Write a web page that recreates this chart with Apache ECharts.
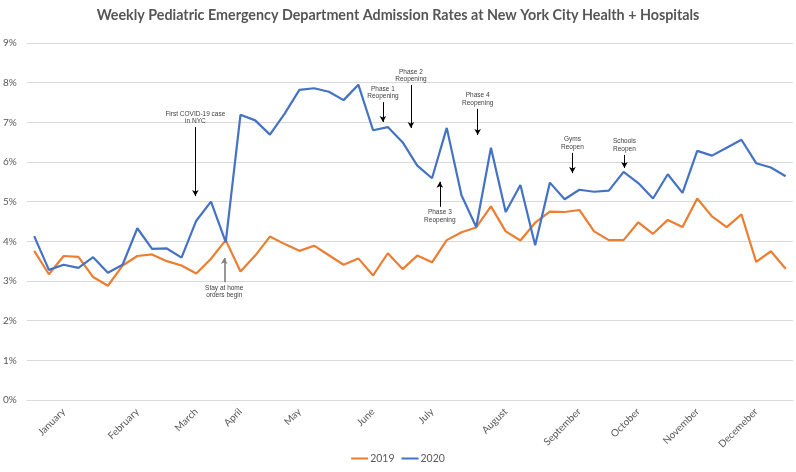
<!DOCTYPE html>
<html lang="en">
<head>
    <meta charset="UTF-8">
    <title>Weekly Pediatric ED Admission Rates</title>
    <script src="https://cdn.jsdelivr.net/npm/echarts@6/dist/echarts.min.js"></script>
</head>
<body style="margin:0;background:#fff;">
<div id="main" style="width:796px;height:472px;"></div>

<script type="text/javascript">
    // weekly rates in %, 52 weeks
    var rates2019 = [3.76, 3.17, 3.63, 3.61, 3.10, 2.88, 3.39, 3.63, 3.67, 3.50,
        3.39, 3.19, 3.56, 4.03, 3.24, 3.64, 4.12, 3.93, 3.76, 3.89,
        3.65, 3.41, 3.57, 3.14, 3.70, 3.30, 3.64, 3.47, 4.03, 4.23,
        4.35, 4.88, 4.25, 4.02, 4.47, 4.75, 4.74, 4.79, 4.25, 4.03,
        4.03, 4.48, 4.19, 4.54, 4.36, 5.08, 4.63, 4.36, 4.68, 3.48,
        3.75, 3.31];
    var rates2020 = [4.13, 3.28, 3.41, 3.33, 3.60, 3.21, 3.41, 4.33, 3.81, 3.82,
        3.59, 4.52, 5.00, 3.98, 7.19, 7.05, 6.69, 7.22, 7.82, 7.86,
        7.77, 7.56, 7.95, 6.80, 6.88, 6.50, 5.91, 5.59, 6.86, 5.16,
        4.36, 6.36, 4.74, 5.42, 3.90, 5.48, 5.06, 5.30, 5.25, 5.28,
        5.75, 5.47, 5.08, 5.69, 5.22, 6.28, 6.16, 6.36, 6.56, 5.97,
        5.86, 5.64];

    // month names shown under the week where each label sits
    var monthNames = ['January', 'February', 'March', 'April', 'May', 'June',
        'July', 'August', 'September', 'October', 'November', 'Decemeber'];
    var monthWeeks = [2, 7, 11, 14, 18, 23, 27, 32, 37, 41, 45, 49];

    // annotations: text, week position (x), arrow start and end value (y)
    var noteTexts = ['First COVID-19 case\nin NYC', 'Stay at home\norders begin',
        'Phase 1\nReopening', 'Phase 2\nReopening', 'Phase 3\nReopening',
        'Phase 4\nReopening', 'Gyms\nReopen', 'Schools\nReopen'];
    var noteWeeks = [10.94, 12.9, 23.67, 25.57, 27.53, 30.1, 36.53, 40.06];
    var noteFrom = [6.88, 2.97, 7.51, 7.94, 4.87, 7.34, 6.23, 6.18];
    var noteTo = [5.14, 3.58, 7.01, 6.86, 5.50, 6.68, 5.72, 5.85];

    var categories = [];
    for (var i = 0; i < rates2019.length; i++) {
        var k = monthWeeks.indexOf(i);
        categories.push(k >= 0 ? monthNames[k] : '');
    }

    var noteLines = noteTexts.map(function (t, i) {
        var grey = i === 1;
        return [
            {
                name: t,
                coord: [noteWeeks[i], noteFrom[i]],
                lineStyle: {color: grey ? '#7f7f7f' : '#000', width: grey ? 1.6 : 1, type: 'solid'}
            },
            {coord: [noteWeeks[i], noteTo[i]]}
        ];
    });

    var myChart = echarts.init(document.getElementById('main'));

    var option = {
        animation: false,
        title: {
            text: 'Weekly Pediatric Emergency Department Admission Rates at New York City Health + Hospitals',
            left: 'center',
            top: 3,
            textStyle: {fontFamily: 'Lato', fontSize: 14.3, fontWeight: 'bold', color: '#555555'}
        },
        legend: {
            data: [{name: '2019', icon: 'rect'}, {name: '2020', icon: 'rect'}],
            bottom: 3,
            left: 'center',
            itemWidth: 17,
            itemHeight: 2,
            itemGap: 7,
            textStyle: {fontFamily: 'Lato', fontSize: 10.5, color: '#595959', padding: [0, 0, 0, -3]}
        },
        grid: {left: 25, right: 3, top: 43, bottom: 72},
        xAxis: [
            {
                type: 'category',
                data: categories,
                boundaryGap: true,
                axisLine: {lineStyle: {color: '#d9d9d9'}},
                axisTick: {show: false},
                axisLabel: {
                    interval: 0,
                    rotate: 45,
                    margin: 10,
                    fontFamily: 'Lato',
                    fontSize: 10,
                    color: '#595959'
                }
            },
            {
                type: 'value',
                min: -0.5,
                max: 51.5,
                show: false
            }
        ],
        yAxis: {
            type: 'value',
            min: 0,
            max: 9,
            interval: 1,
            axisLine: {show: false},
            axisTick: {show: false},
            splitLine: {lineStyle: {color: '#d9d9d9'}},
            axisLabel: {
                formatter: '{value}%',
                margin: 10,
                fontFamily: 'Lato',
                fontSize: 10,
                color: '#595959'
            }
        },
        series: [
            {
                name: '2019',
                type: 'line',
                data: rates2019,
                symbol: 'none',
                itemStyle: {color: '#ED7D31'},
                lineStyle: {color: '#ED7D31', width: 2.2}
            },
            {
                name: '2020',
                type: 'line',
                data: rates2020,
                symbol: 'none',
                itemStyle: {color: '#4472C4'},
                lineStyle: {color: '#4472C4', width: 2.2}
            },
            {
                name: 'notes',
                type: 'line',
                xAxisIndex: 1,
                data: [],
                symbol: 'none',
                markLine: {
                    silent: true,
                    symbol: ['none', 'arrow'],
                    symbolSize: [5, 6],
                    label: {
                        show: true,
                        position: 'start',
                        distance: 2,
                        formatter: '{b}',
                        fontFamily: 'Liberation Sans',
                        fontSize: 6.5,
                        lineHeight: 7.5,
                        color: '#404040'
                    },
                    emphasis: {disabled: true},
                    data: noteLines
                }
            }
        ]
    };

    myChart.setOption(option);
</script>
</body>
</html>
